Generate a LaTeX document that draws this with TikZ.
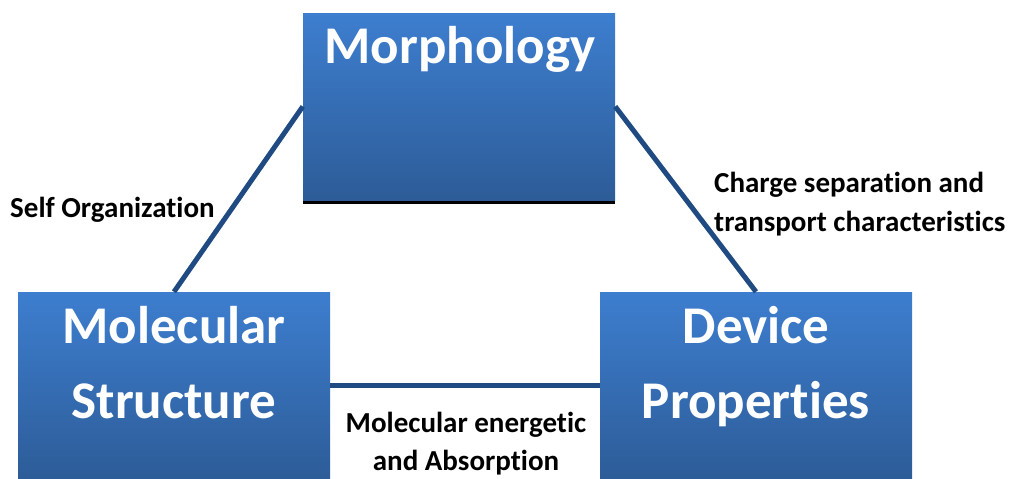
\documentclass[tikz,border=0pt]{standalone}
\usepackage{fontspec}
\setmainfont[Ligatures=CommonOff]{Carlito}
\definecolor{boxtop}{HTML}{3D7ECF}
\definecolor{boxbot}{HTML}{2D5C98}
\definecolor{linkblue}{HTML}{1F4B82}
\begin{document}
\begin{tikzpicture}[x=1pt,y=-1pt,
  bluebox/.style={rectangle, minimum width=312pt, minimum height=187pt, inner sep=0pt, top color=boxtop, bottom color=boxbot, draw=none},
  boxtext/.style={text=white, font=\fontsize{53}{75}\selectfont\bfseries, align=center, inner sep=0pt},
  linklabel/.style={text=black, font=\fontsize{29}{40}\selectfont\bfseries, inner sep=0pt},
  link/.style={draw=linkblue, line width=5pt}]
\useasboundingbox (0,0) rectangle (1013,479);
\fill[black] (303,196) rectangle (615,204);
\node[bluebox] (morph) at (459,106.5) {};
\node[bluebox] (mol) at (174,385.5) {};
\node[bluebox] (dev) at (756,385.5) {};
\node[boxtext, anchor=base] (morphT) at (460,63) {Morphology};
\node[boxtext, anchor=base] (molT) at (174,343) {Molecular};
\node[boxtext, anchor=base] (molT2) at (174,418) {Structure};
\node[boxtext, anchor=base] (devT) at (756,343) {Device};
\node[boxtext, anchor=base] (devT2) at (756,418) {Properties};
\draw[link] (morph.west) -- (mol.north);
\draw[link] (morph.east) -- (dev.north);
\draw[link] (mol.east) -- (dev.west);
\node[linklabel, anchor=base west] (selfL) at (10,217) {Self Organization};
\node[linklabel, anchor=base west] (chL1) at (714,192) {Charge separation and};
\node[linklabel, anchor=base west] (chL2) at (714,231) {transport characteristics};
\node[linklabel, anchor=base] (enL1) at (466,432) {Molecular energetic};
\node[linklabel, anchor=base] (enL2) at (466,470) {and Absorption};
\end{tikzpicture}
\end{document}
